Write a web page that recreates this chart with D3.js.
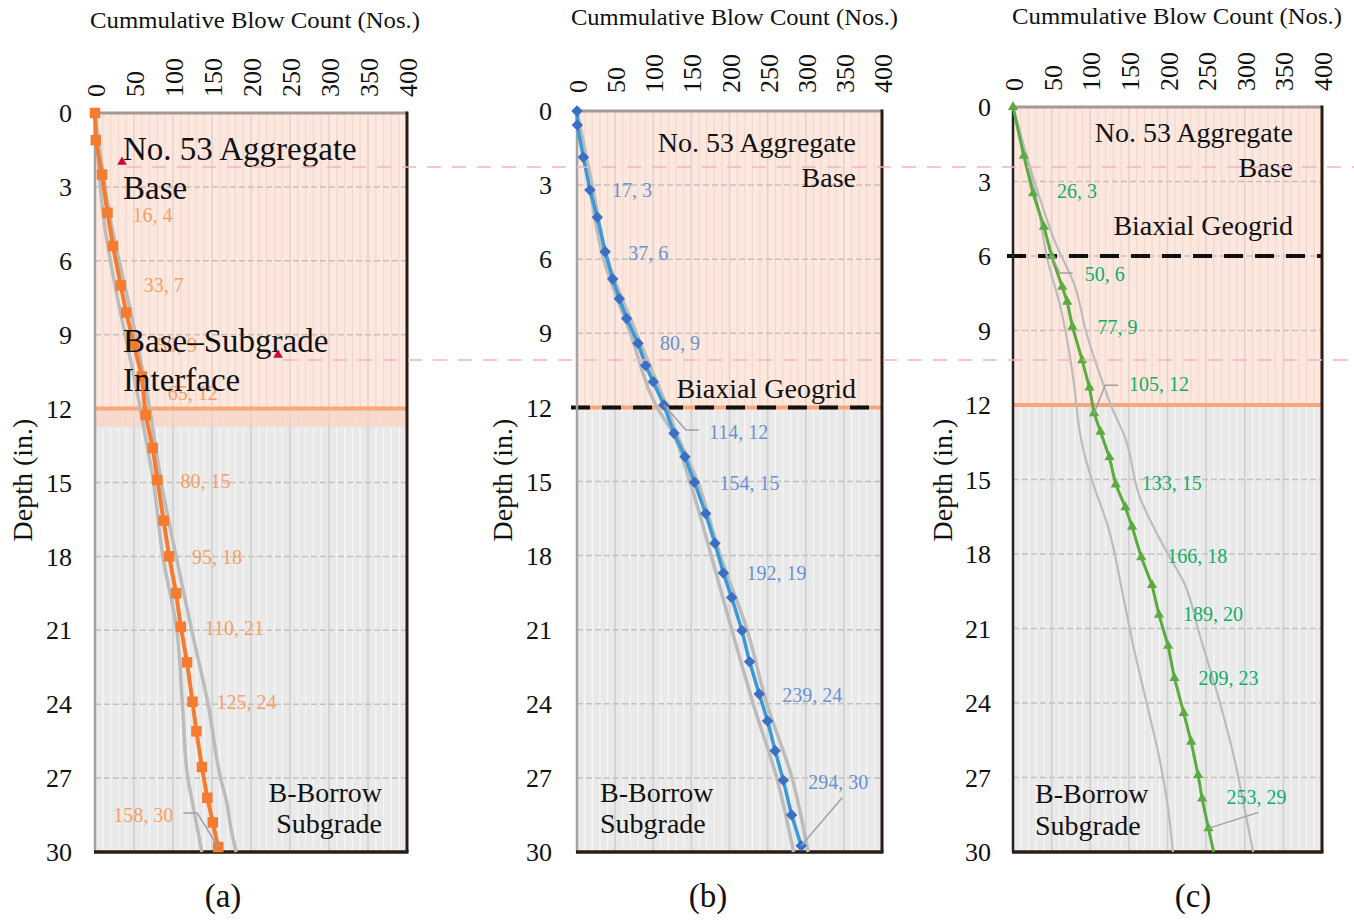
<!DOCTYPE html>
<html>
<head>
<meta charset="utf-8">
<script src="https://cdnjs.cloudflare.com/ajax/libs/d3/7.8.5/d3.min.js"></script>
<style>
body { margin: 0; background: #fff; }
svg text { font-family: "Liberation Serif", "Times New Roman", serif; }
</style>
</head>
<body>
<script>
var xTicks = [0, 50, 100, 150, 200, 250, 300, 350, 400];
var yTicks = [0, 3, 6, 9, 12, 15, 18, 21, 24, 27, 30];
var xTitle = "Cummulative Blow Count (Nos.)";
var yTitle = "Depth (in.)";

// (a) base - subgrade interface
var aBlows = [0, 1, 9, 16, 23, 33, 40, 50, 60, 65, 74, 80, 88, 95, 104, 110, 118, 125, 130, 137, 144, 151, 158];
var aDepth = [0, 1.1, 2.5, 4.05, 5.4, 7.0, 8.1, 9.4, 10.7, 12.26, 13.6, 14.9, 16.55, 18.0, 19.5, 20.86, 22.3, 23.9, 25.1, 26.55, 27.8, 28.8, 29.8];
var aLowBlows = [0, 10, 58, 75, 87, 105, 112, 119, 125, 131, 137];
var aLowDepth = [0, 4, 12, 15, 18, 21, 24, 27, 28, 29, 30];
var aHighBlows = [0, 18, 52, 70, 85, 104, 124, 145, 161, 169, 174, 181];
var aHighDepth = [0, 4, 9, 12, 15, 18, 21, 24, 27, 28, 29, 30];
var aLabelIdx = [3, 5, 7, 9, 11, 13, 15, 17, 22];
var aLabelDx = [25, 23, 23, 22, 23, 23, 24, 24, -45];
var aLabelDy = [2, 0, 0, -22, 1, 1, 1, 0, -32];

// (b) geogrid at 12 in.
var bBlows = [0, 0.4, 8.3, 17, 26.6, 37, 46.8, 55.5, 65.1, 80, 90.1, 100, 114, 127.2, 141.6, 154, 168.8, 180.9, 192, 202.9, 216.3, 226.3, 239, 250, 259.9, 270.6, 281.5, 294];
var bDepth = [0, 0.57, 1.87, 3.2, 4.3, 5.7, 6.8, 7.6, 8.4, 9.4, 10.3, 10.96, 11.9, 13.05, 14.0, 15.03, 16.3, 17.5, 18.7, 19.7, 21.03, 22.3, 23.6, 24.7, 25.9, 27.1, 28.5, 29.75];
var bLowBlows = [0, 16, 35, 70, 105, 125, 148, 176, 203, 231, 262, 284];
var bLowDepth = [0, 3, 6, 9, 12, 13, 15, 18, 21, 24, 27, 30];
var bHighBlows = [0, 20, 40, 78, 118, 130, 158, 188, 223, 249, 282, 303];
var bHighDepth = [0, 3, 6, 9, 12, 13, 15, 18, 21, 24, 27, 30];
var bLabelIdx = [3, 5, 9, 12, 15, 18, 22, 27];
var bLabelDx = [22, 23, 22, 45, 25, 23, 23, 7];
var bLabelDy = [0, 1, 0, 27, 1, 0, 1, -64];

// (c) geogrid at 6 in.
var cBlows = [0, 14, 26, 40, 50, 63.7, 70.2, 77, 89.6, 99, 105, 113.3, 124.8, 133, 145.5, 154.2, 166, 180, 189, 200.8, 209, 221, 230.6, 239.6, 244.8, 253, 259.8];
var cDepth = [0, 1.97, 3.48, 4.82, 6.0, 7.24, 7.84, 8.85, 10.2, 11.3, 12.33, 13.08, 14.11, 15.2, 16.12, 16.9, 18.13, 19.25, 20.45, 21.7, 23.0, 24.4, 25.56, 26.9, 27.85, 29.05, 30];
var cLowBlows = [0, 33, 45, 61, 73, 80, 86, 91, 103, 123, 142, 155, 173, 190, 201, 207];
var cLowDepth = [0, 4.1, 6.2, 8.0, 9.9, 11.4, 13.0, 13.8, 15.1, 16.9, 19.6, 21.6, 24, 26.3, 28.3, 30];
var cHighBlows = [0, 35, 54, 80, 95, 115, 128, 145, 164, 197, 222, 242, 268, 287, 300, 311];
var cHighDepth = [0, 3.7, 5.4, 7.2, 9.1, 11.0, 12.1, 13.3, 15.7, 17.8, 19.2, 21.3, 24, 26.3, 28.3, 30];
var cLabelIdx = [2, 4, 7, 10, 13, 16, 18, 20, 25];
var cLabelDx = [24, 33, 25, 35, 26, 26, 24, 24, 18];
var cLabelDy = [-2, 18, 0, -29, -1, -1, -1, 0, -31];

var svg = d3.select("body").append("svg")
    .attr("width", 1354)
    .attr("height", 921);

var panels = [
  {name: "(a)", left: 95, right: 407, top: 113, bottom: 852,
   blows: aBlows, depth: aDepth, low: [aLowBlows, aLowDepth], high: [aHighBlows, aHighDepth],
   labIdx: aLabelIdx, labDx: aLabelDx, labDy: aLabelDy,
   color: "#f47b2f", labColor: "#f7a064", lineW: 4, marker: d3.symbolSquare, mSize: 110, mRot: 0,
   greyW: 3.5, peachTo: 12.75, band: true, geogrid: null, leftBorder: "#a3a3a3",
   leaders: {8: [[10, -2], [24, -2]]},
   title: [90, 28, 330], yLabX: 32, tickX: 72, tickY: 97, subX: 223,
   notes: [
     ["No. 53 Aggregate", 123, 160, 33, "start"], ["Base", 123, 199, 33, "start"],
     ["Base\u2013Subgrade", 123, 352, 33, "start"], ["Interface", 123, 391, 33, "start"],
     ["B-Borrow", 382, 802, 28, "end"], ["Subgrade", 382, 833, 28, "end"]]},
  {name: "(b)", left: 577, right: 882, top: 111, bottom: 852,
   blows: bBlows, depth: bDepth, low: [bLowBlows, bLowDepth], high: [bHighBlows, bHighDepth],
   labIdx: bLabelIdx, labDx: bLabelDx, labDy: bLabelDy,
   color: "#3a9ad9", mColor: "#3b6fc4", labColor: "#6b90d3", lineW: 3.5, marker: d3.symbolSquare, mSize: 66, mRot: 45,
   greyW: 3.5, peachTo: 12, band: false, geogrid: 12, leftBorder: "#a3a3a3",
   leaders: {3: [[-10, -2], [-23, -2]], 7: [[34, 16]]},
   title: [571, 25, 327], yLabX: 512, tickX: 552, tickY: 93, subX: 708,
   notes: [
     ["No. 53 Aggregate", 856, 152, 28, "end"], ["Base", 856, 187, 28, "end"],
     ["Biaxial Geogrid", 856, 398, 28, "end"],
     ["B-Borrow", 600, 802, 28, "start"], ["Subgrade", 600, 833, 28, "start"]]},
  {name: "(c)", left: 1013, right: 1322, top: 107, bottom: 852,
   blows: cBlows, depth: cDepth, low: [cLowBlows, cLowDepth], high: [cHighBlows, cHighDepth],
   labIdx: cLabelIdx, labDx: cLabelDx, labDy: cLabelDy,
   color: "#5bab40", labColor: "#0fae68", lineW: 3, marker: d3.symbolTriangle, mSize: 45, mRot: 0, skipLast: true,
   greyW: 2.2, peachTo: 12, band: false, geogrid: 6, leftBorder: "#222",
   leaders: {1: [[-12, -1], [-25, -1]], 3: [[-11, 1], [-24, 1]], 8: [[32, 15]]},
   title: [1012, 24, 330], yLabX: 952, tickX: 991, tickY: 91, subX: 1193,
   notes: [
     ["No. 53 Aggregate", 1293, 142, 28, "end"], ["Base", 1293, 177, 28, "end"],
     ["Biaxial Geogrid", 1293, 235, 28, "end"],
     ["B-Borrow", 1035, 803, 28, "start"], ["Subgrade", 1035, 835, 28, "start"]]}
];

function drawPanel(p) {
  var x = d3.scaleLinear().domain([0, 400]).range([p.left, p.right]);
  var y = d3.scaleLinear().domain([0, 30]).range([p.top, p.bottom]);
  var g = svg.append("g");
  var w = x(400) - x(0);

  // soil layers
  g.append("rect").attr("x", x(0)).attr("y", y(0)).attr("width", w).attr("height", y(30) - y(0))
      .attr("fill", "#e9e9e9");
  g.append("rect").attr("x", x(0)).attr("y", y(0)).attr("width", w).attr("height", y(p.peachTo) - y(0))
      .attr("fill", "#fce8df");
  if (p.band) {
    g.append("rect").attr("x", x(0)).attr("y", y(12)).attr("width", w).attr("height", y(12.75) - y(12))
        .attr("fill", "#f7d9cd");
  }

  // vertical stripes
  var minor = d3.range(10, 400, 10).filter(function(d) { return d % 50 != 0; });
  var major = d3.range(50, 400, 50);
  [[0, p.peachTo, "#f3d8cd", "#e6d2ca"], [p.peachTo, 30, "#f7f7f7", "#d0d0d0"]].forEach(function(z) {
    g.selectAll(null).data(minor).enter().append("line")
        .attr("x1", function(d) { return x(d); }).attr("x2", function(d) { return x(d); })
        .attr("y1", y(z[0])).attr("y2", y(z[1]))
        .attr("stroke", z[2]).attr("stroke-width", 1.2);
    g.selectAll(null).data(major).enter().append("line")
        .attr("x1", function(d) { return x(d); }).attr("x2", function(d) { return x(d); })
        .attr("y1", y(z[0])).attr("y2", y(z[1]))
        .attr("stroke", z[3]).attr("stroke-width", 1.6);
  });

  // horizontal dashed grid
  g.selectAll(null).data(yTicks.slice(1, -1)).enter().append("line")
      .attr("x1", x(0)).attr("x2", x(400))
      .attr("y1", function(d) { return y(d); }).attr("y2", function(d) { return y(d); })
      .attr("stroke", "#c9bfba").attr("stroke-width", 1.5).attr("stroke-dasharray", "6,3");

  // interface line + geogrid
  g.append("line").attr("x1", x(0)).attr("x2", x(400)).attr("y1", y(12)).attr("y2", y(12))
      .attr("stroke", "#f9a779").attr("stroke-width", 4);
  if (p.geogrid != null) {
    g.append("line").attr("x1", x(0) - 6).attr("x2", x(400)).attr("y1", y(p.geogrid)).attr("y2", y(p.geogrid))
        .attr("stroke", "#111").attr("stroke-width", 4).attr("stroke-dasharray", "19,12");
  }

  // frame
  g.append("line").attr("x1", x(0)).attr("x2", x(400)).attr("y1", y(0)).attr("y2", y(0))
      .attr("stroke", "#a39a95").attr("stroke-width", 3);
  g.append("line").attr("x1", x(0)).attr("x2", x(0)).attr("y1", y(0)).attr("y2", y(30))
      .attr("stroke", p.leftBorder).attr("stroke-width", 2.5);
  g.append("line").attr("x1", x(400)).attr("x2", x(400)).attr("y1", y(0) - 1.5).attr("y2", y(30))
      .attr("stroke", "#2a1c14").attr("stroke-width", 3);
  g.append("line").attr("x1", x(0) - 1).attr("x2", x(400) + 1.5).attr("y1", y(30)).attr("y2", y(30))
      .attr("stroke", "#2a1c14").attr("stroke-width", 3.5);

  // grey bounds
  var pl = d3.line()
      .curve(d3.curveMonotoneY)
      .x(function(d) { return x(d[0]); })
      .y(function(d) { return y(d[1]); });
  [p.low, p.high].forEach(function(b) {
    g.append("path")
        .datum(d3.zip(b[0], b[1]))
        .attr("d", pl)
        .attr("fill", "none")
        .attr("stroke", "#bcbcbc")
        .attr("stroke-width", p.greyW);
  });

  // series
  var pts = d3.zip(p.blows, p.depth);
  var sl = d3.line()
      .x(function(d) { return x(d[0]); })
      .y(function(d) { return y(d[1]); });
  g.append("path")
      .datum(pts)
      .attr("d", sl)
      .attr("fill", "none")
      .attr("stroke", p.color)
      .attr("stroke-width", p.lineW);
  g.selectAll(null)
      .data(p.skipLast ? pts.slice(0, -1) : pts)
    .enter()
      .append("path")
      .attr("d", d3.symbol().type(p.marker).size(p.mSize))
      .attr("fill", p.mColor || p.color)
      .attr("transform", function(d) {
        return "translate(" + x(d[0]) + "," + y(d[1]) + ") rotate(" + p.mRot + ")";
      });

  // data labels
  p.labIdx.forEach(function(k, i) {
    var d = pts[k];
    var lx = x(d[0]) + p.labDx[i], ly = y(d[1]) + p.labDy[i];
    var lead = p.leaders[i];
    if (lead) {
      var lp = lead.map(function(o) { return [lx + o[0], ly + o[1]]; });
      lp.push([x(d[0]), y(d[1])]);
      g.append("path")
          .attr("d", d3.line()(lp))
          .attr("fill", "none")
          .attr("stroke", "#a0a0a0")
          .attr("stroke-width", 1.5);
    }
    g.append("text")
        .attr("x", lx).attr("y", ly).attr("dy", "0.35em")
        .attr("text-anchor", p.labDx[i] < 0 ? "end" : "start")
        .style("font-size", "20px")
        .attr("fill", p.labColor)
        .text(Math.round(d[0]) + ", " + Math.round(d[1]));
  });

  // layer notes
  p.notes.forEach(function(n) {
    g.append("text")
        .attr("x", n[1]).attr("y", n[2])
        .attr("text-anchor", n[4])
        .style("font-size", n[3] + "px")
        .attr("fill", "#111")
        .text(n[0]);
  });

  // axes
  g.selectAll(null).data(xTicks).enter().append("text")
      .attr("transform", function(d) { return "translate(" + (x(d) + 1) + "," + p.tickY + ") rotate(-90)"; })
      .attr("dy", "0.35em")
      .attr("text-anchor", "start")
      .style("font-size", "26px")
      .attr("fill", "#111")
      .text(function(d) { return d; });
  g.selectAll(null).data(yTicks).enter().append("text")
      .attr("x", p.tickX).attr("y", function(d) { return y(d); })
      .attr("dy", "0.35em")
      .attr("text-anchor", "end")
      .style("font-size", "26px")
      .attr("fill", "#111")
      .text(function(d) { return d; });

  g.append("text")
      .attr("x", p.title[0]).attr("y", p.title[1])
      .attr("textLength", p.title[2]).attr("lengthAdjust", "spacingAndGlyphs")
      .style("font-size", "24px")
      .attr("fill", "#111")
      .text(xTitle);
  g.append("text")
      .attr("transform", "translate(" + p.yLabX + ",480) rotate(-90)")
      .attr("text-anchor", "middle")
      .style("font-size", "28px")
      .attr("fill", "#111")
      .text(yTitle);
  g.append("text")
      .attr("x", p.subX).attr("y", 907)
      .attr("text-anchor", "middle")
      .style("font-size", "33px")
      .attr("fill", "#111")
      .text(p.name);
}

panels.forEach(drawPanel);

// pink leader lines from panel (a) markers across the figure
var pinkY = [167, 360];
var pinkX = [127, 283];
pinkY.forEach(function(v, i) {
  svg.append("line")
      .attr("x1", pinkX[i]).attr("x2", 1354).attr("y1", v).attr("y2", v)
      .attr("stroke", "#f4b3bf").attr("stroke-width", 1.5).attr("stroke-dasharray", "14,11");
  svg.append("path")
      .attr("d", d3.symbol().type(d3.symbolTriangle).size(40))
      .attr("fill", "#c8102e")
      .attr("transform", "translate(" + (pinkX[i] - 5) + "," + (v - 5) + ")");
});
</script>
</body>
</html>
